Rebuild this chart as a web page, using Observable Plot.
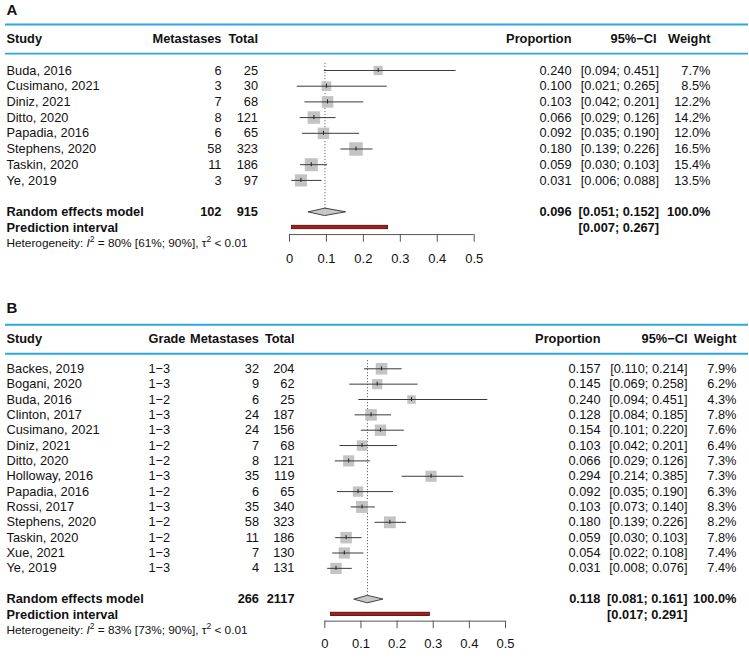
<!DOCTYPE html>
<html><head><meta charset="utf-8">
<script src="https://cdn.jsdelivr.net/npm/d3@7"></script>
<script src="https://cdn.jsdelivr.net/npm/@observablehq/plot@0.6"></script>
<style>
body{margin:0;background:#fff;}
#chart svg{display:block;}
</style></head><body><div id="chart"></div>
<script>
// ---------- Panel A data ----------
const studiesA = ["Buda, 2016","Cusimano, 2021","Diniz, 2021","Ditto, 2020","Papadia, 2016","Stephens, 2020","Taskin, 2020","Ye, 2019"];
const eventsA = [6,3,7,8,6,58,11,3];
const totalsA = [25,30,68,121,65,323,186,97];
const propA = [0.240,0.100,0.103,0.066,0.092,0.180,0.059,0.031];
const lowerA = [0.094,0.021,0.042,0.029,0.035,0.139,0.030,0.006];
const upperA = [0.451,0.265,0.201,0.126,0.190,0.226,0.103,0.088];
const weightA = [7.7,8.5,12.2,14.2,12.0,16.5,15.4,13.5];
const pooledA = [0.096,0.051,0.152];
const predA = [0.007,0.267];
const sumA = [102,915];
const hetA = ["80% [61%; 90%]", "< 0.01"];

// ---------- Panel B data ----------
const studiesB = ["Backes, 2019","Bogani, 2020","Buda, 2016","Clinton, 2017","Cusimano, 2021","Diniz, 2021","Ditto, 2020","Holloway, 2016","Papadia, 2016","Rossi, 2017","Stephens, 2020","Taskin, 2020","Xue, 2021","Ye, 2019"];
const gradeB = ["1−3","1−3","1−2","1−3","1−3","1−2","1−2","1−3","1−2","1−3","1−2","1−2","1−3","1−3"];
const eventsB = [32,9,6,24,24,7,8,35,6,35,58,11,7,4];
const totalsB = [204,62,25,187,156,68,121,119,65,340,323,186,130,131];
const propB = [0.157,0.145,0.240,0.128,0.154,0.103,0.066,0.294,0.092,0.103,0.180,0.059,0.054,0.031];
const lowerB = [0.110,0.069,0.094,0.084,0.101,0.042,0.029,0.214,0.035,0.073,0.139,0.030,0.022,0.008];
const upperB = [0.214,0.258,0.451,0.185,0.220,0.201,0.126,0.385,0.190,0.140,0.226,0.103,0.108,0.076];
const weightB = [7.9,6.2,4.3,7.8,7.6,6.4,7.3,7.3,6.3,8.3,8.2,7.8,7.4,7.4];
const pooledB = [0.118,0.081,0.161];
const predB = [0.017,0.291];
const sumB = [266,2117];
const hetB = ["83% [73%; 90%]", "< 0.01"];

const xTicks = [0,0.1,0.2,0.3,0.4,0.5];

const FONT = "'Liberation Sans', Arial, Helvetica, sans-serif";
const BLUE = "#2ea6e2";
const f3 = v => v.toFixed(3);
const ci = (a,b) => `[${f3(a)}; ${f3(b)}]`;

function forest(o) {
  const L = o.layout, C = o.cols;
  const n = o.studies.length;
  const rows = o.studies.map((s,i)=>({i, study:s, grade:o.grade ? o.grade[i] : "",
    ev:o.events[i], tot:o.totals[i], p:o.prop[i], lo:o.lower[i], hi:o.upper[i], w:o.weight[i]}));
  const rRE = n + 1, rPI = n + 2, rHet = n + 3;
  const [est, plo, phi] = o.pooled;
  const diamond = [{x:plo,y:rRE},{x:est,y:rRE-L.dh},{x:phi,y:rRE},{x:est,y:rRE+L.dh}];
  const col = (accessor, c, extra={}) => Plot.text(rows, {y:"i", text:accessor, frameAnchor:"left", dx:c[0], textAnchor:c[1], ...extra});
  const one = (t, row, c, extra={}) => Plot.text([{t, row}], {y:"row", text:"t", frameAnchor:"left", dx:c[0], textAnchor:c[1], ...extra});
  const headerMarks = o.headers.map(h => one(h[0], L.rowHeader, C[h[1]], {fontWeight:"bold"}));
  const marks = [
    one(o.label, L.rowLabel, [6,"start"], {fontWeight:"bold", fontSize:15}),
    Plot.ruleY([L.rowLine1, L.rowLine2], {stroke:BLUE, strokeWidth:1.8, insetLeft:5, insetRight:1}),
    ...headerMarks,
    col("study", C.study),
    ...(o.grade ? [col("grade", C.grade)] : []),
    col("ev", C.ev),
    col("tot", C.tot),
    col(d => f3(d.p), C.prop),
    col(d => ci(d.lo, d.hi), C.ci),
    col(d => d.w.toFixed(1) + "%", C.w),
    one("Random effects model", rRE, C.study, {fontWeight:"bold"}),
    one(String(o.sum[0]), rRE, C.ev, {fontWeight:"bold"}),
    one(String(o.sum[1]), rRE, C.tot, {fontWeight:"bold"}),
    one(f3(est), rRE, C.prop, {fontWeight:"bold"}),
    one(ci(plo, phi), rRE, C.ci, {fontWeight:"bold"}),
    one("100.0%", rRE, C.w, {fontWeight:"bold"}),
    one("Prediction interval", rPI, C.study, {fontWeight:"bold"}),
    one(ci(o.pred[0], o.pred[1]), rPI, C.ci, {fontWeight:"bold"}),
    one(`Heterogeneity: I2 = ${o.het[0]}, τ2 ${o.het[1]}`, rHet, C.study, {fontSize:11.8}),
    // forest part
    Plot.ruleX([est], {x:d=>d, y1:()=>L.rowDotTop, y2:()=>rRE + L.dh, stroke:"#666", strokeDasharray:"1.2,1.8", strokeWidth:1}),
    Plot.dot(rows, {x:"p", y:"i", r:"w", symbol:"square", fill:"#c3c3c3", stroke:"none"}),
    Plot.ruleY(rows, {y:"i", x1:"lo", x2:"hi", stroke:"#3a3a3a", strokeWidth:1}),
    Plot.ruleX(rows, {x:"p", y1:d=>d.i-0.13, y2:d=>d.i+0.13, stroke:"#222", strokeWidth:1}),
    Plot.line(diamond, {x:"x", y:"y", curve:"linear-closed", fill:"#c8c8c8", stroke:"#444", strokeWidth:1}),
    Plot.rect([o.pred], {x1:d=>d[0], x2:d=>d[1], y1:()=>rPI-L.bh, y2:()=>rPI+L.bh, fill:"#a81c1c", stroke:"#3d0c0c", strokeWidth:0.8}),
    Plot.ruleY([L.rowAxis], {x1:()=>d3.min(xTicks), x2:()=>d3.max(xTicks), stroke:"#555", strokeWidth:1}),
    Plot.ruleX(xTicks, {x:d=>d, y1:()=>L.rowAxis, y2:()=>L.rowAxis + L.tickLen, stroke:"#555", strokeWidth:1}),
    Plot.text(xTicks, {x:d=>d, y:()=>L.rowTickLabel, text:d=>String(d), fontSize:13})
  ];
  const svg = Plot.plot({
    width: 749, height: L.height, margin: 0,
    x: {domain:[0,0.5], range:L.xRange, axis:null},
    y: {domain:[0, n-1], range:[L.y0, L.y0 + (n-1)*L.dy], axis:null},
    r: {type:"sqrt", domain:[0, L.wMax], range:[0, L.rMax]},
    style: {fontFamily: FONT, fontSize: "12.8px", color:"#111", background:"#fff", overflow:"visible"},
    marks
  });
  // rich text for heterogeneity line (italic I, superscripts)
  d3.select(svg).selectAll("text").filter(function(){ return this.textContent.startsWith("Heterogeneity:"); })
    .each(function(){
      const t = d3.select(this);
      t.text("");
      t.append("tspan").text("Heterogeneity: ");
      t.append("tspan").attr("font-style","italic").text("I");
      t.append("tspan").attr("font-size","8.5px").attr("dy","-4.5").text("2");
      t.append("tspan").attr("dy","4.5").text(` = ${o.het[0]}, τ`);
      t.append("tspan").attr("font-size","8.5px").attr("dy","-4.5").text("2");
      t.append("tspan").attr("dy","4.5").text(` ${o.het[1]}`);
    });
  return svg;
}

const panelA = forest({
  label:"A", studies:studiesA, grade:null, events:eventsA, totals:totalsA,
  prop:propA, lower:lowerA, upper:upperA, weight:weightA,
  pooled:pooledA, pred:predA, sum:sumA, het:hetA,
  headers:[["Study","study"],["Metastases","ev"],["Total","tot"],["Proportion","prop"],["95%−CI","ciH"],["Weight","w"]],
  cols:{study:[6,"start"], ev:[221,"end"], tot:[257.5,"end"], prop:[571,"end"], ci:[658.5,"end"], ciH:[656,"end"], w:[710,"end"]},
  layout:{height:290, xRange:[289,473.7], y0:70, dy:15.7, rowLabel:-3.82, rowLine1:-2.93, rowLine2:-1.08,
    rowHeader:-2.04, rowDotTop:-0.45, rowAxis:10.45, tickLen:0.49, rowTickLabel:11.97, dh:0.235, bh:0.11,
    wMax:16.5, rMax:7.6}
});

const panelB = forest({
  label:"B", studies:studiesB, grade:gradeB, events:eventsB, totals:totalsB,
  prop:propB, lower:lowerB, upper:upperB, weight:weightB,
  pooled:pooledB, pred:predB, sum:sumB, het:hetB,
  headers:[["Study","study"],["Grade","grade"],["Metastases","ev"],["Total","tot"],["Proportion","prop"],["95%−CI","ciH"],["Weight","w"]],
  cols:{study:[6,"start"], grade:[148,"start"], ev:[258.5,"end"], tot:[294,"end"], prop:[600,"end"], ci:[687,"end"], ciH:[687,"end"], w:[736,"end"]},
  layout:{height:369, xRange:[324.3,505], y0:78.3, dy:15.35, rowLabel:-3.93, rowLine1:-2.87, rowLine2:-0.98,
    rowHeader:-1.95, rowDotTop:-0.54, rowAxis:16.44, tickLen:0.49, rowTickLabel:17.92, dh:0.24, bh:0.11,
    wMax:8.3, rMax:6.7}
});

document.getElementById("chart").append(panelA, panelB);
</script>
</body></html>
